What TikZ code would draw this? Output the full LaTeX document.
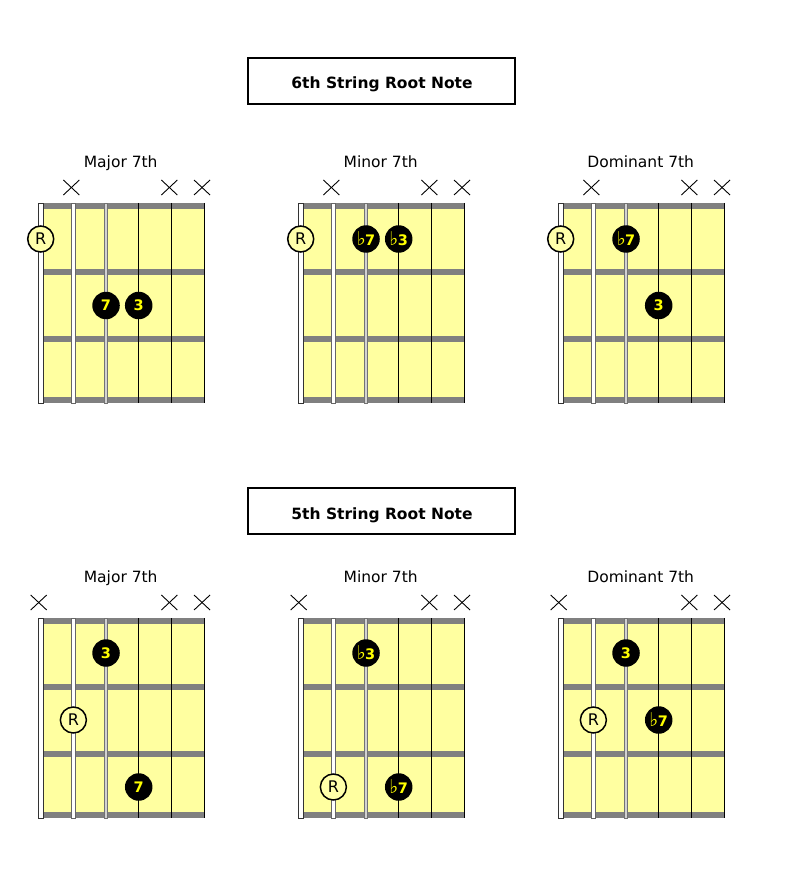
\documentclass[tikz,border=0pt]{standalone}
\usepackage{fontspec}
\setmainfont{DejaVu Sans}
\definecolor{boardyellow}{RGB}{255,255,160}
\definecolor{fretgray}{RGB}{128,128,128}
\definecolor{rootfill}{RGB}{255,255,170}
\definecolor{dottext}{RGB}{255,255,0}
\tikzset{
  headerbox/.style={draw, line width=2pt, minimum width=267pt, minimum height=46pt, inner sep=0pt},
  headertext/.style={anchor=base, inner sep=0pt, font=\fontsize{15.5}{18}\selectfont\bfseries},
  chordtitle/.style={anchor=base, inner sep=0pt, font=\fontsize{15.5}{18}\selectfont},
  note/.style={circle, fill=black, minimum size=27.5pt, inner sep=0pt, text=dottext,
    font=\fontsize{14.5}{15}\selectfont\bfseries},
  root/.style={circle, draw=black, line width=1.5pt, fill=rootfill, minimum size=26pt, inner sep=0pt,
    font=\fontsize{16}{16}\selectfont},
  mute/.style={line width=0.9pt, black},
}
\newcommand{\flatsym}{{\fontsize{19}{15}\selectfont\mdseries\char"266D}\kern-0.5pt}
\newcommand{\drawboard}{%
  \fill[boardyellow] (0,0) rectangle (163.33,200);
  \foreach \fy in {0,66,133,194} \fill[fretgray] (2,\fy) rectangle (163.33,\fy+6);
  \draw[black!80, line width=0.7pt, fill=white] (-2.5,0) rectangle (2.5,200);
  \draw[gray!80!black, line width=0.7pt, fill=white] (30.67,0) rectangle (34.67,200);
  \draw[gray!90!black, line width=0.6pt, fill=gray!35] (63.83,0) rectangle (66.83,200);
  \draw[line width=1pt] (98,0) -- (98,200);
  \draw[line width=1pt] (130.67,0) -- (130.67,200);
  \draw[line width=1pt] (163.33,0) -- (163.33,200);
}
\newcommand{\mutemark}[1]{%
  \draw[mute] (#1-10,-23) -- (#1+6,-8);
  \draw[mute] (#1-10,-8) -- (#1+6,-23);
}
\begin{document}
\begin{tikzpicture}[x=1pt, y=-1pt]
\useasboundingbox (0,0) rectangle (788,885);
\fill[white] (0,0) rectangle (788,885);

\node[headerbox] (h6) at (381.5,81) {};
\node[headertext] (h6t) at (382,89) {6th String Root Note};
\node[headerbox] (h5) at (381.5,511) {};
\node[headertext] (h5t) at (382,519) {5th String Root Note};

% ---------- top-left: Major 7th ----------
\begin{scope}[shift={(40.7,203)}]
  \drawboard
  \node[chordtitle] (t1) at (80,-35.7) {Major 7th};
  \mutemark{32.67}\mutemark{130.67}\mutemark{163.33}
  \node[root] (a1) at (0,36) {R};
  \node[note] (a2) at (65.33,102.5) {7};
  \node[note] (a3) at (98,102.5) {3};
\end{scope}

% ---------- top-middle: Minor 7th ----------
\begin{scope}[shift={(300.7,203)}]
  \drawboard
  \node[chordtitle] (t2) at (80,-35.7) {Minor 7th};
  \mutemark{32.67}\mutemark{130.67}\mutemark{163.33}
  \node[root] (b1) at (0,36) {R};
  \node[note] (b2) at (65.33,36) {\flatsym7};
  \node[note] (b3) at (98,36) {\flatsym3};
\end{scope}

% ---------- top-right: Dominant 7th ----------
\begin{scope}[shift={(560.7,203)}]
  \drawboard
  \node[chordtitle] (t3) at (80,-35.7) {Dominant 7th};
  \mutemark{32.67}\mutemark{130.67}\mutemark{163.33}
  \node[root] (c1) at (0,36) {R};
  \node[note] (c2) at (65.33,36) {\flatsym7};
  \node[note] (c3) at (98,102.5) {3};
\end{scope}

% ---------- bottom-left: Major 7th ----------
\begin{scope}[shift={(40.7,618)}]
  \drawboard
  \node[chordtitle] (t4) at (80,-35.7) {Major 7th};
  \mutemark{0}\mutemark{130.67}\mutemark{163.33}
  \node[note] (d1) at (65.33,35) {3};
  \node[root] (d2) at (32.67,102) {R};
  \node[note] (d3) at (98,169) {7};
\end{scope}

% ---------- bottom-middle: Minor 7th ----------
\begin{scope}[shift={(300.7,618)}]
  \drawboard
  \node[chordtitle] (t5) at (80,-35.7) {Minor 7th};
  \mutemark{0}\mutemark{130.67}\mutemark{163.33}
  \node[note] (e1) at (65.33,35) {\flatsym3};
  \node[root] (e2) at (32.67,169) {R};
  \node[note] (e3) at (98,169) {\flatsym7};
\end{scope}

% ---------- bottom-right: Dominant 7th ----------
\begin{scope}[shift={(560.7,618)}]
  \drawboard
  \node[chordtitle] (t6) at (80,-35.7) {Dominant 7th};
  \mutemark{0}\mutemark{130.67}\mutemark{163.33}
  \node[note] (f1) at (65.33,35) {3};
  \node[root] (f2) at (32.67,102) {R};
  \node[note] (f3) at (98,102) {\flatsym7};
\end{scope}
\end{tikzpicture}
\end{document}
